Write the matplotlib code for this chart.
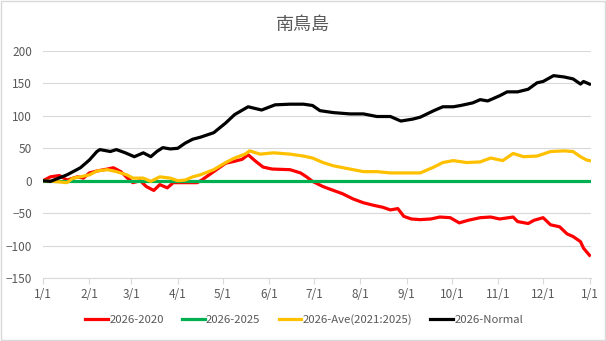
import numpy as np
import matplotlib.pyplot as plt

plt.rcParams['font.family'] = ['Noto Sans CJK JP', 'DejaVu Sans']

# 月初の通日と目盛ラベル
month_days = [0, 31, 59, 90, 120, 151, 181, 212, 243, 273, 304, 334, 365]
month_labels = ['1/1', '2/1', '3/1', '4/1', '5/1', '6/1', '7/1',
                '8/1', '9/1', '10/1', '11/1', '12/1', '1/1']

# 2026-2020
red_days = [0, 5, 11, 16, 23, 27, 31, 36, 43, 47, 52, 56, 60, 65, 69, 74, 78, 83,
            87, 92, 98, 103, 106, 114, 122, 128, 133, 137, 142, 147, 153, 165, 172,
            176, 180, 187, 194, 200, 207, 214, 221, 227, 232, 237, 241, 246, 252,
            259, 265, 272, 278, 284, 292, 299, 305, 314, 317, 324, 328, 334, 339,
            345, 350, 354, 359, 361, 365]
red_vals = [0, 6, 8, 1, 6, 4, 12, 15, 18, 20, 14, 5, -3, 0, -9, -15, -6, -11,
            -3, -3, -3, -3, 1, 14, 27, 30, 33, 40, 30, 21, 18, 17, 12,
            6, -1, -9, -15, -20, -28, -34, -38, -41, -45, -43, -55, -59, -60,
            -59, -56, -57, -65, -61, -57, -56, -59, -56, -63, -66, -61, -57, -68,
            -71, -82, -86, -94, -104, -115]

# 2026-2025
green_days = [0, 365]
green_vals = [0, 0]

# 2026-Ave(2021:2025)
ave_days = [0, 7, 16, 20, 25, 31, 36, 43, 49, 56, 60, 67, 72, 78, 85, 90, 95, 100,
            105, 114, 122, 128, 135, 138, 145, 154, 165, 174, 180, 187, 194, 205,
            214, 223, 232, 240, 247, 252, 261, 267, 274, 283, 292, 299, 307, 314,
            321, 330, 339, 348, 354, 359, 363, 365]
ave_vals = [0, -1, -3, 4, 6, 9, 15, 17, 14, 9, 4, 4, -1, 6, 4, 0, 1, 6,
            9, 17, 28, 35, 41, 46, 41, 43, 41, 38, 35, 28, 23, 18,
            14, 14, 12, 12, 12, 12, 21, 28, 31, 28, 29, 35, 31, 42,
            37, 38, 45, 46, 45, 37, 32, 31]

# 2026-Normal
normal_days = [0, 5, 16, 25, 31, 36, 38, 45, 49, 55, 61, 67, 72, 76, 80, 85, 90, 95,
               100, 105, 114, 122, 128, 137, 146, 155, 165, 174, 180, 185, 194, 205,
               214, 223, 232, 239, 247, 252, 261, 267, 274, 279, 287, 292, 297, 305,
               310, 317, 324, 330, 334, 341, 348, 354, 359, 361, 365]
normal_vals = [0, -1, 9, 20, 32, 45, 48, 45, 48, 43, 37, 43, 37, 45, 51, 49, 50, 58,
               64, 67, 74, 89, 102, 114, 109, 117, 118, 118, 116, 108, 105, 103,
               103, 99, 99, 92, 95, 98, 108, 114, 114, 116, 120, 125, 123, 131,
               137, 137, 141, 151, 153, 162, 160, 157, 149, 153, 149]

series = [
    ('2026-2020', red_days, red_vals, '#FF0000'),
    ('2026-2025', green_days, green_vals, '#00B050'),
    ('2026-Ave(2021:2025)', ave_days, ave_vals, '#FFC000'),
    ('2026-Normal', normal_days, normal_vals, '#000000'),
]

fig = plt.figure(figsize=(6.06, 3.41), dpi=100)
ax = fig.add_axes([43 / 606, 1 - 278 / 341, 548 / 606, 227 / 341])

for name, d, v, c in series:
    ax.plot(d, v, color=c, lw=2.3, label=name, solid_joinstyle='round')

ax.set_xlim(0, 366)
ax.set_ylim(-150, 200)
ax.set_yticks(np.arange(-150, 201, 50))
ax.set_xticks(month_days)
ax.set_xticklabels(month_labels)
ax.grid(axis='y', color='#d9d9d9', lw=0.8)
ax.set_axisbelow(True)
for s in ['top', 'right', 'left']:
    ax.spines[s].set_visible(False)
ax.spines['bottom'].set_color('#d9d9d9')
ax.tick_params(axis='y', length=0, labelsize=8.5, labelcolor='#595959', pad=8)
ax.tick_params(axis='x', length=4, color='#d9d9d9', labelsize=8.5,
               labelcolor='#595959', pad=3)

fig.text(0.5, 1 - 25 / 341, '南鳥島', ha='center', va='center',
         fontsize=13, color='#595959')

fig.legend(loc='center', bbox_to_anchor=(0.502, 1 - 320 / 341), ncol=4,
           frameon=False, fontsize=8.2, handlelength=2.0, handletextpad=0.1,
           columnspacing=1.6, labelcolor='#595959')

# 外枠
fig.patches.append(plt.Rectangle((0.001, 0.002), 0.997, 0.995, transform=fig.transFigure,
                                 fill=False, edgecolor='#d9d9d9', lw=1))

fig.savefig('out.png', dpi=100)
